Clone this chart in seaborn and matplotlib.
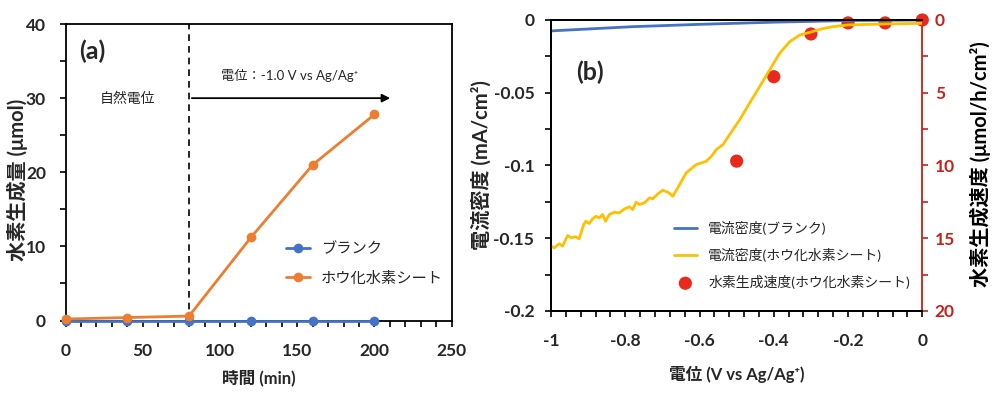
import numpy as np
import pandas as pd
import seaborn as sns
from matplotlib import pyplot as plt
from matplotlib.ticker import MultipleLocator, FuncFormatter

# (a) hydrogen amount vs time
time_min = [0, 40, 80, 120, 160, 200]
blank_h2 = [0.0, 0.0, 0.0, 0.0, 0.0, 0.0]
sheet_h2 = [0.2, 0.4, 0.6, 11.2, 21.0, 27.8]

# (b) current density vs potential
blank_v = [-1.0, -0.78, -0.6, -0.4, -0.2, 0.0]
blank_j = [-0.0075, -0.0046, -0.003, -0.0015, -0.0004, 0.0]

sheet_v = [-1.0, -0.991, -0.978, -0.969, -0.955, -0.946, -0.933, -0.924, -0.912, -0.906,
           -0.897, -0.888, -0.879, -0.870, -0.861, -0.853, -0.843, -0.829, -0.816, -0.802,
           -0.789, -0.780, -0.771, -0.762, -0.748, -0.735, -0.726, -0.712, -0.699, -0.685,
           -0.672, -0.660, -0.649, -0.636, -0.609, -0.582, -0.568, -0.555, -0.537, -0.519,
           -0.492, -0.465, -0.438, -0.411, -0.384, -0.357, -0.330, -0.303, -0.270, -0.241,
           -0.2, -0.1, 0.0]
sheet_j = [-0.1554, -0.1566, -0.1538, -0.1554, -0.1481, -0.1497, -0.1490, -0.1504, -0.1406, -0.1383,
           -0.1399, -0.1367, -0.1349, -0.1360, -0.1337, -0.1383, -0.1337, -0.1321, -0.1326, -0.1298,
           -0.1284, -0.1303, -0.1252, -0.1268, -0.1257, -0.1223, -0.1229, -0.1195, -0.1170, -0.1184,
           -0.1211, -0.1160, -0.1110, -0.1051, -0.0994, -0.0971, -0.0937, -0.0891, -0.0857, -0.0788,
           -0.0686, -0.0571, -0.0457, -0.0343, -0.0228, -0.0149, -0.0103, -0.0085, -0.0060, -0.0046,
           -0.0034, -0.0027, -0.0023]

rate_v = [-0.5, -0.4, -0.3, -0.2, -0.1, 0.0]
rate_h2 = [9.7, 3.9, 0.96, 0.2, 0.2, 0.0]

BLUE = "#4472C4"
ORANGE = "#ED7D31"
YELLOW = "#FFC000"
RED = "#E8291C"
AXRED = "#C8201A"

sns.set_theme(style="ticks")
plt.rcParams["font.family"] = ["Lato", "Noto Sans CJK JP", "DejaVu Sans"]
plt.rcParams["axes.unicode_minus"] = False

fig = plt.figure(figsize=(10, 3.99), dpi=100)

label_font = dict(fontsize=12, fontweight="bold")
ylabel_font = dict(fontsize=14.5, fontweight="bold")


def style_axis(ax):
    for s in ax.spines.values():
        s.set_color("black")
        s.set_linewidth(1.3)
    ax.tick_params(which="both", direction="out", color="black", width=1.2, length=4)
    for lab in ax.get_xticklabels() + ax.get_yticklabels():
        lab.set_fontsize(12.5)
        lab.set_fontweight("bold")


def num_fmt(v, pos):
    return "%g" % round(v, 4)


# ---------- panel (a) ----------
ax1 = fig.add_axes([0.0655, 0.1967, 0.3862, 0.7431])
df_a = pd.DataFrame({
    "time": time_min * 2,
    "h2": blank_h2 + sheet_h2,
    "sample": ["ブランク"] * len(time_min) + ["ホウ化水素シート"] * len(time_min),
})
sns.lineplot(data=df_a, x="time", y="h2", hue="sample", palette=[BLUE, ORANGE],
             marker="o", markersize=7, markeredgewidth=0, linewidth=2, ax=ax1)
for ln in ax1.lines:
    ln.set_clip_on(False)
    ln.set_zorder(4)
ax1.set_xlim(0, 250)
ax1.set_ylim(0, 40)
ax1.xaxis.set_major_locator(MultipleLocator(50))
ax1.xaxis.set_minor_locator(MultipleLocator(10))
ax1.yaxis.set_major_locator(MultipleLocator(10))
ax1.yaxis.set_minor_locator(MultipleLocator(5))
ax1.axvline(80, color="black", linestyle=(0, (4, 3)), linewidth=1.2, zorder=1)
ax1.annotate("", xy=(212, 30), xytext=(80, 30),
             arrowprops=dict(arrowstyle="-|>", color="black", lw=1.3, mutation_scale=12))
ax1.text(145, 33.1, "電位：-1.0 V vs Ag/Ag⁺", fontsize=9.5, ha="center", va="center")
ax1.text(40, 30.0, "自然電位", fontsize=10, ha="center", va="center")
ax1.text(17, 36.3, "(a)", fontsize=18, fontweight="bold", ha="center", va="center")
ax1.set_xlabel("時間 (min)", **label_font, labelpad=8)
ax1.set_ylabel("水素生成量 (μmol)", **ylabel_font)
style_axis(ax1)
ax1.tick_params(axis="x", which="major", pad=12)
ax1.tick_params(axis="y", which="major", pad=10)
ax1.yaxis.set_label_coords(-0.098, 0.474)
ax1.legend(loc="upper left", bbox_to_anchor=(0.555, 0.285), frameon=False, fontsize=11,
           handlelength=1.6, handletextpad=0.7, labelspacing=1.0, borderaxespad=0)

# ---------- panel (b) ----------
ax2 = fig.add_axes([0.551, 0.2206, 0.3713, 0.7293])
ax3 = ax2.twinx()
ax2.set_zorder(ax3.get_zorder() + 1)
ax2.patch.set_visible(False)

df_blank = pd.DataFrame({"v": blank_v, "j": blank_j})
df_sheet = pd.DataFrame({"v": sheet_v, "j": sheet_j})
df_rate = pd.DataFrame({"v": rate_v, "r": rate_h2})

sns.lineplot(data=df_blank, x="v", y="j", color=BLUE, linewidth=2, ax=ax2,
             label="電流密度(ブランク)", estimator=None, sort=False)
sns.lineplot(data=df_sheet, x="v", y="j", color=YELLOW, linewidth=2, ax=ax2,
             label="電流密度(ホウ化水素シート)", estimator=None, sort=False)
sns.scatterplot(data=df_rate, x="v", y="r", color=RED, s=90, edgecolor="none", ax=ax3,
                label="水素生成速度(ホウ化水素シート)", clip_on=False, zorder=5)

ax2.set_xlim(-1, 0)
ax2.set_ylim(-0.2, 0)
ax3.set_ylim(20, 0)
ax2.xaxis.set_major_locator(MultipleLocator(0.2))
ax2.xaxis.set_minor_locator(MultipleLocator(0.04))
ax2.yaxis.set_major_locator(MultipleLocator(0.05))
ax2.yaxis.set_minor_locator(MultipleLocator(0.025))
ax3.yaxis.set_major_locator(MultipleLocator(5))
ax3.yaxis.set_minor_locator(MultipleLocator(2.5))
ax2.xaxis.set_major_formatter(FuncFormatter(num_fmt))
ax2.yaxis.set_major_formatter(FuncFormatter(num_fmt))

ax2.text(-0.895, -0.036, "(b)", fontsize=18, fontweight="bold", ha="center", va="center")
ax2.set_xlabel("電位 (V vs Ag/Ag⁺)", **label_font, labelpad=12)
ax2.set_ylabel("電流密度 (mA/cm²)", **ylabel_font)
ax3.set_ylabel("水素生成速度 (μmol/h/cm²)", **ylabel_font, color="black")
ax2.yaxis.set_label_coords(-0.159, 0.5)
ax3.yaxis.set_label_coords(1.127, 0.505)

style_axis(ax2)
style_axis(ax3)
ax2.tick_params(axis="x", which="major", pad=12)
ax2.tick_params(axis="y", which="major", pad=8)
ax3.spines["right"].set_color(AXRED)
ax3.tick_params(axis="y", which="both", color=AXRED, labelcolor=AXRED, pad=5)
ax2.spines["right"].set_visible(False)

h2, l2 = ax2.get_legend_handles_labels()
h3, l3 = ax3.get_legend_handles_labels()
if ax3.get_legend() is not None:
    ax3.get_legend().remove()
ax2.legend(h2 + h3, l2 + l3, loc="upper left", bbox_to_anchor=(0.315, 0.33), frameon=False,
           fontsize=10, handlelength=1.7, handletextpad=0.8, labelspacing=0.95, borderaxespad=0)

fig.savefig("out.png", dpi=100)
